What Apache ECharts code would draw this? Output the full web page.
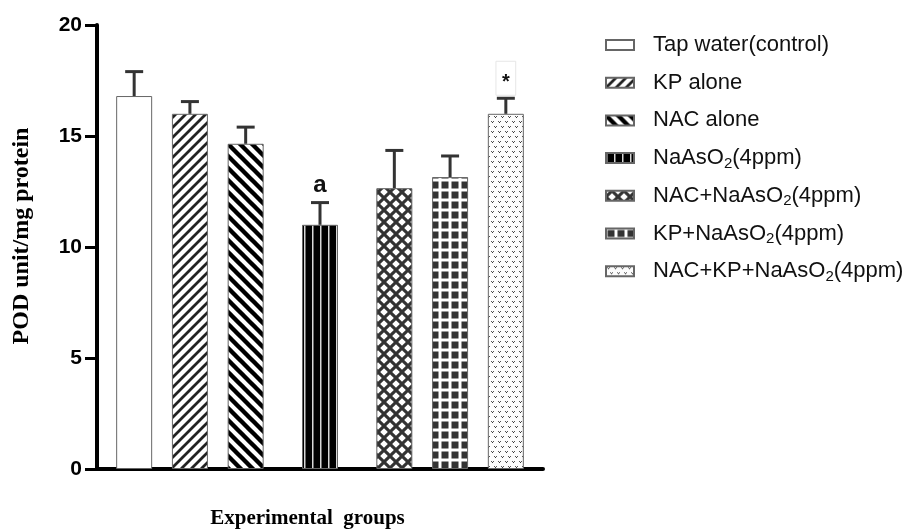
<!DOCTYPE html>
<html><head><meta charset="utf-8">
<script src="https://cdn.jsdelivr.net/npm/echarts@6.0.0/dist/echarts.min.js"></script>
<style>html,body{margin:0;padding:0;background:#fff}#c{width:910px;height:531px}</style>
</head><body><div id="c"></div>
<script>
// ---- data ----
const groups = ['Tap water(control)', 'KP alone', 'NAC alone', 'NaAsO2(4ppm)', 'NAC+NaAsO2(4ppm)', 'KP+NaAsO2(4ppm)', 'NAC+KP+NaAsO2(4ppm)'];
const means = [16.8, 16.0, 14.65, 11.0, 12.65, 13.15, 16.0];
const errors = [1.1, 0.55, 0.75, 1.0, 1.7, 0.95, 0.7];
const sigLabels = ['', '', '', 'a', '', '', '*'];
const yTicks = [0, 5, 10, 15, 20];
const yTitle = 'POD unit/mg protein';
const xTitle = 'Experimental  groups';

// ---- layout (slot grid along the category axis) ----
const slotOf = [2, 5, 8, 12, 16, 19, 22];
const nSlots = 25;
const slots = Array.from({length: nSlots}, (_, i) => 's' + i);

// ---- fill patterns ----
function pat(w, h, draw) {
  const c = document.createElement('canvas'); c.width = w; c.height = h;
  const g = c.getContext('2d'); draw(g, w, h);
  return {image: c, repeat: 'repeat'};
}
function diag(g, w, lw, color, dir) {
  g.strokeStyle = color; g.lineWidth = lw; g.lineCap = 'square';
  for (let k = -1; k <= 1; k++) {
    g.beginPath();
    if (dir > 0) { g.moveTo(k * w - 2, w + 2); g.lineTo(k * w + w + 2, -2); }
    else { g.moveTo(k * w - 2, -2); g.lineTo(k * w + w + 2, w + 2); }
    g.stroke();
  }
}
const fills = [
  '#ffffff',
  pat(10, 10, (g, w) => { g.fillStyle = '#fff'; g.fillRect(0, 0, w, w); diag(g, w, 2.8, '#222', 1); }),
  pat(12, 12, (g, w) => { g.fillStyle = '#fff'; g.fillRect(0, 0, w, w); diag(g, w, 4.4, '#000', -1); }),
  pat(8, 4, (g, w, h) => { g.fillStyle = '#000'; g.fillRect(0, 0, w, h); g.fillStyle = '#d8d8d8'; g.fillRect(0, 0, 1.5, h); }),
  pat(12, 12, (g, w, h) => {
    g.fillStyle = '#333'; g.fillRect(0, 0, w, h); g.fillStyle = '#fff';
    const r = 3.8;
    const dia = (cx, cy) => { g.beginPath(); g.moveTo(cx, cy - r); g.lineTo(cx + r, cy); g.lineTo(cx, cy + r); g.lineTo(cx - r, cy); g.closePath(); g.fill(); };
    dia(w / 2, h / 2); dia(0, 0); dia(w, 0); dia(0, h); dia(w, h);
  }),
  pat(10, 10, (g, w, h) => { g.fillStyle = '#fff'; g.fillRect(0, 0, w, h); g.fillStyle = '#333'; g.fillRect(1.5, 1.5, 7, 7); }),
  pat(7, 10, (g, w, h) => {
    g.fillStyle = '#fcfcfc'; g.fillRect(0, 0, w, h);
    const v = (x, y) => {
      g.fillStyle = '#555'; g.fillRect(x, y, 1, 1); g.fillRect(x + 2, y, 1, 1);
      g.fillStyle = '#333'; g.fillRect(x + 1, y + 1, 1, 1);
    };
    v(1, 1); v(4, 6);
  })
];

const sans = 'Liberation Sans, Arial, sans-serif';
const serif = 'Liberation Serif, Times New Roman, serif';

const barSeries = groups.map((name, i) => ({
  name, type: 'bar', barWidth: 36, barGap: '-100%',
  data: slots.map((_, s) => s === slotOf[i] ? means[i] : '-'),
  itemStyle: {color: fills[i], borderColor: '#666', borderWidth: 1},
  emphasis: {disabled: true}
}));

const errSeries = {
  type: 'custom', silent: true, z: 5,
  data: groups.map((_, i) => [slotOf[i], means[i], errors[i]]),
  encode: {x: 0, y: 1},
  renderItem(params, api) {
    const x = api.value(0), m = api.value(1), e = api.value(2);
    const b = api.coord([x, m]), t = api.coord([x, m + e]);
    const st = {stroke: '#333', lineWidth: 3};
    const ch = [
      {type: 'line', shape: {x1: b[0], y1: b[1], x2: t[0], y2: t[1]}, style: st},
      {type: 'line', shape: {x1: t[0] - 9, y1: t[1], x2: t[0] + 9, y2: t[1]}, style: st}
    ];
    const lab = sigLabels[params.dataIndex];
    if (lab === 'a') {
      ch.push({type: 'text', x: t[0], y: t[1] - 5, style: {text: lab, font: 'bold 24px ' + sans, fill: '#111', align: 'center', verticalAlign: 'bottom'}});
    } else if (lab) {
      ch.push({type: 'text', x: t[0], y: t[1] - 3, style: {text: lab, font: 'bold 20px ' + sans, fill: '#111', align: 'center', verticalAlign: 'bottom',
        padding: [11, 6, 3, 6], borderColor: '#e6e6e6', borderWidth: 1}});
    }
    return {type: 'group', children: ch};
  }
};

const chart = echarts.init(document.getElementById('c'), null, {renderer: 'canvas'});
chart.setOption({
  animation: false,
  backgroundColor: '#fff',
  grid: {left: 97, right: 367, top: 25, bottom: 62, outerBoundsMode: 'none', containLabel: false},
  legend: {
    data: groups, orient: 'vertical', left: 600, top: 27,
    icon: 'rect', itemWidth: 28, itemHeight: 10, itemGap: 11.7,
    selectedMode: false,
    formatter: n => n.replace('NaAsO2', 'NaAsO{sub|2}'),
    textStyle: {
      fontFamily: sans, fontSize: 22, color: '#111', lineHeight: 26, padding: [0, 0, 0, 14],
      rich: {sub: {fontFamily: sans, fontSize: 15, color: '#111', lineHeight: 15, verticalAlign: 'bottom'}}
    }
  },
  xAxis: {
    type: 'category', data: slots, boundaryGap: false,
    axisLine: {lineStyle: {color: '#000', width: 4}},
    axisTick: {show: false}, axisLabel: {show: false}, splitLine: {show: false},
    name: xTitle, nameLocation: 'middle', nameGap: 39,
    nameTextStyle: {fontFamily: serif, fontWeight: 'bold', fontSize: 21, color: '#000', padding: [0, 25, 0, 0]}
  },
  yAxis: {
    type: 'value', min: yTicks[0], max: yTicks[yTicks.length - 1], interval: yTicks[1] - yTicks[0],
    axisLine: {show: true, lineStyle: {color: '#000', width: 4}},
    axisTick: {show: true, length: 12, lineStyle: {color: '#000', width: 3}},
    axisLabel: {margin: 15, fontFamily: sans, fontWeight: 'bold', fontSize: 21, color: '#000'},
    splitLine: {show: false},
    name: yTitle, nameLocation: 'middle', nameGap: 63, nameRotate: 90,
    nameTextStyle: {fontFamily: serif, fontWeight: 'bold', fontSize: 24, color: '#000', padding: [0, 0, 0, 22]}
  },
  series: [...barSeries, errSeries]
});
</script>
</body></html>
